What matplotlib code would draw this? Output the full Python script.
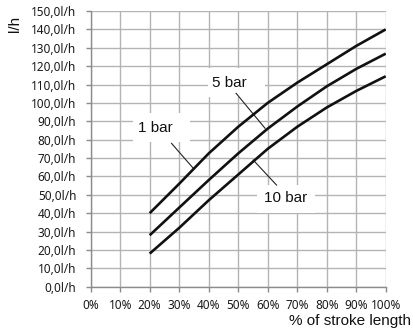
import matplotlib
matplotlib.use("Agg")
import matplotlib.pyplot as plt
from matplotlib.patches import Rectangle
from matplotlib.ticker import FuncFormatter, MultipleLocator

# stroke length (%) and delivery rate (l/h) at three back pressures
stroke = [20, 30, 40, 50, 60, 70, 80, 90, 100]
flow_1bar = [40, 56, 72.5, 87, 100, 111, 121, 131, 140]
flow_5bar = [28, 43, 58, 72.5, 86, 98, 109, 118.5, 126.8]
flow_10bar = [18, 32, 47, 61, 75, 87, 97.5, 106.5, 114.5]

series = [("1 bar", flow_1bar), ("5 bar", flow_5bar), ("10 bar", flow_10bar)]

label_font = "Liberation Sans"
tick_font = "Noto Sans"

fig = plt.figure(figsize=(4.14, 3.35), dpi=100)
ax = fig.add_axes([0.219, 0.1442, 0.7127, 0.8229])

ax.set_xlim(0, 100)
ax.set_ylim(0, 150)
ax.xaxis.set_major_locator(MultipleLocator(10))
ax.yaxis.set_major_locator(MultipleLocator(10))
ax.xaxis.set_major_formatter(FuncFormatter(lambda v, p: f"{v:.0f}%"))
ax.yaxis.set_major_formatter(FuncFormatter(lambda v, p: f"{v:.1f}".replace(".", ",") + "l/h"))

ax.grid(True, color="#b4b4b4", linewidth=1.0, zorder=0)
ax.set_axisbelow(True)
for side in ("top", "right"):
    ax.spines[side].set_visible(False)
for side in ("left", "bottom"):
    ax.spines[side].set_color("#8c8c8c")
    ax.spines[side].set_linewidth(1.0)
ax.tick_params(axis="both", direction="out", length=3.3, width=1.0, color="#8c8c8c",
               labelsize=8.5, labelcolor="#1a1a1a")
ax.tick_params(axis="y", pad=7)
ax.tick_params(axis="x", pad=5.8)
for lbl in ax.get_xticklabels() + ax.get_yticklabels():
    lbl.set_family(tick_font)

for name, vals in series:
    ax.plot(stroke, vals, color="#111111", linewidth=1.9, solid_capstyle="butt", zorder=4)

# white label boxes breaking the grid
boxes = {
    "1 bar": ((14.3, 78.7), 19.4, 15.8, (21.8, 86.2)),
    "5 bar": ((39.9, 103.2), 19.2, 15.7, (47.0, 111.1)),
    "10 bar": ((56.3, 39.9), 19.7, 15.4, (66.1, 48.2)),
}
for label, ((bx, by), bw, bh, (tx, ty)) in boxes.items():
    ax.add_patch(Rectangle((bx, by), bw, bh, facecolor="white", edgecolor="none", zorder=2))
    ax.text(tx, ty, label, ha="center", va="center", fontsize=11, family=label_font,
            color="#111111", zorder=5)

# leader lines from labels to curves
leaders = [((27.4, 78.0), (34.8, 64.4)),
           ((49.3, 105.2), (59.1, 86.2)),
           ((63.0, 55.3), (55.1, 68.9))]
for (x0, y0), (x1, y1) in leaders:
    ax.plot([x0, x1], [y0, y1], color="#222222", linewidth=0.8, zorder=3)

fig.text(0.036, 0.928, "l/h", rotation=90, ha="center", va="center",
         fontsize=11, family=label_font, color="#111111")
fig.text(0.992, 0.042, "% of stroke length", ha="right", va="center",
         fontsize=11, family=label_font, color="#111111")

fig.savefig("out.png", dpi=100)
